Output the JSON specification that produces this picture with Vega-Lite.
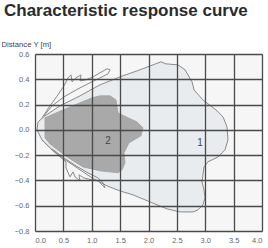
{
  "$schema": "https://vega.github.io/schema/vega-lite/v6.json",
  "width": 227,
  "height": 177,
  "autosize": {"type": "none"},
  "padding": {"left": 35, "top": 54, "right": 6, "bottom": 17},
  "background": "#ffffff",
  "title": {
    "text": "Characteristic response curve",
    "anchor": "start",
    "frame": "group",
    "dx": -31,
    "font": "Liberation Sans",
    "fontSize": 17,
    "fontWeight": "bold",
    "color": "#2b2b2b",
    "offset": 20
  },
  "config": {
    "view": {"fill": "#f6f6f6", "stroke": null},
    "axis": {
      "grid": true,
      "gridColor": "#4a4a4a",
      "gridWidth": 1.3,
      "gridOpacity": 1,
      "domain": false,
      "ticks": false,
      "labelFont": "Liberation Sans",
      "labelFontSize": 7.5,
      "labelColor": "#666666"
    }
  },
  "datasets": {
    "r1": [
      {"i": 0, "x": 0.035, "y": 0.0},
      {"i": 1, "x": 0.053, "y": 0.063},
      {"i": 2, "x": 0.176, "y": 0.111},
      {"i": 3, "x": 0.441, "y": 0.19},
      {"i": 4, "x": 0.793, "y": 0.269},
      {"i": 5, "x": 1.145, "y": 0.356},
      {"i": 6, "x": 1.498, "y": 0.419},
      {"i": 7, "x": 1.85, "y": 0.475},
      {"i": 8, "x": 2.22, "y": 0.538},
      {"i": 9, "x": 2.308, "y": 0.522},
      {"i": 10, "x": 2.52, "y": 0.514},
      {"i": 11, "x": 2.643, "y": 0.475},
      {"i": 12, "x": 2.696, "y": 0.435},
      {"i": 13, "x": 2.767, "y": 0.38},
      {"i": 14, "x": 2.802, "y": 0.316},
      {"i": 15, "x": 2.96, "y": 0.237},
      {"i": 16, "x": 3.189, "y": 0.158},
      {"i": 17, "x": 3.313, "y": 0.103},
      {"i": 18, "x": 3.383, "y": 0.024},
      {"i": 19, "x": 3.401, "y": -0.079},
      {"i": 20, "x": 3.348, "y": -0.158},
      {"i": 21, "x": 3.225, "y": -0.214},
      {"i": 22, "x": 3.048, "y": -0.253},
      {"i": 23, "x": 2.978, "y": -0.293},
      {"i": 24, "x": 2.96, "y": -0.356},
      {"i": 25, "x": 2.943, "y": -0.411},
      {"i": 26, "x": 2.978, "y": -0.475},
      {"i": 27, "x": 2.996, "y": -0.538},
      {"i": 28, "x": 2.96, "y": -0.593},
      {"i": 29, "x": 2.872, "y": -0.633},
      {"i": 30, "x": 2.784, "y": -0.649},
      {"i": 31, "x": 2.555, "y": -0.649},
      {"i": 32, "x": 2.326, "y": -0.625},
      {"i": 33, "x": 2.026, "y": -0.57},
      {"i": 34, "x": 1.727, "y": -0.514},
      {"i": 35, "x": 1.498, "y": -0.483},
      {"i": 36, "x": 1.269, "y": -0.443},
      {"i": 37, "x": 1.004, "y": -0.38},
      {"i": 38, "x": 0.793, "y": -0.316},
      {"i": 39, "x": 0.529, "y": -0.237},
      {"i": 40, "x": 0.3, "y": -0.158},
      {"i": 41, "x": 0.123, "y": -0.079},
      {"i": 42, "x": 0.035, "y": 0.0}
    ],
    "r2": [
      {"i": 0, "x": 0.176, "y": 0.095},
      {"i": 1, "x": 0.493, "y": 0.158},
      {"i": 2, "x": 0.793, "y": 0.214},
      {"i": 3, "x": 1.004, "y": 0.253},
      {"i": 4, "x": 1.145, "y": 0.269},
      {"i": 5, "x": 1.322, "y": 0.269},
      {"i": 6, "x": 1.427, "y": 0.237},
      {"i": 7, "x": 1.463, "y": 0.134},
      {"i": 8, "x": 1.604, "y": 0.103},
      {"i": 9, "x": 1.797, "y": 0.063},
      {"i": 10, "x": 1.903, "y": 0.016},
      {"i": 11, "x": 1.868, "y": -0.047},
      {"i": 12, "x": 1.656, "y": -0.103},
      {"i": 13, "x": 1.568, "y": -0.182},
      {"i": 14, "x": 1.586, "y": -0.261},
      {"i": 15, "x": 1.533, "y": -0.316},
      {"i": 16, "x": 1.463, "y": -0.34},
      {"i": 17, "x": 1.145, "y": -0.324},
      {"i": 18, "x": 0.846, "y": -0.293},
      {"i": 19, "x": 0.564, "y": -0.214},
      {"i": 20, "x": 0.264, "y": -0.111},
      {"i": 21, "x": 0.176, "y": -0.063},
      {"i": 22, "x": 0.176, "y": 0.095}
    ],
    "lobeUp": [
      {"i": 0, "x": 0.123, "y": 0.095},
      {"i": 1, "x": 0.264, "y": 0.19},
      {"i": 2, "x": 0.405, "y": 0.277},
      {"i": 3, "x": 0.511, "y": 0.348},
      {"i": 4, "x": 0.581, "y": 0.411},
      {"i": 5, "x": 0.634, "y": 0.435},
      {"i": 6, "x": 0.652, "y": 0.38},
      {"i": 7, "x": 0.722, "y": 0.411},
      {"i": 8, "x": 0.811, "y": 0.435},
      {"i": 9, "x": 0.793, "y": 0.388},
      {"i": 10, "x": 0.899, "y": 0.396},
      {"i": 11, "x": 1.022, "y": 0.419},
      {"i": 12, "x": 1.145, "y": 0.451},
      {"i": 13, "x": 1.269, "y": 0.483},
      {"i": 14, "x": 1.322, "y": 0.475},
      {"i": 15, "x": 1.286, "y": 0.443},
      {"i": 16, "x": 1.145, "y": 0.411},
      {"i": 17, "x": 0.969, "y": 0.372},
      {"i": 18, "x": 0.758, "y": 0.324},
      {"i": 19, "x": 0.511, "y": 0.261},
      {"i": 20, "x": 0.3, "y": 0.19},
      {"i": 21, "x": 0.159, "y": 0.111}
    ],
    "lobeDown": [
      {"i": 0, "x": 0.123, "y": -0.079},
      {"i": 1, "x": 0.3, "y": -0.158},
      {"i": 2, "x": 0.441, "y": -0.214},
      {"i": 3, "x": 0.546, "y": -0.253},
      {"i": 4, "x": 0.546, "y": -0.301},
      {"i": 5, "x": 0.617, "y": -0.372},
      {"i": 6, "x": 0.67, "y": -0.332},
      {"i": 7, "x": 0.705, "y": -0.372},
      {"i": 8, "x": 0.793, "y": -0.403},
      {"i": 9, "x": 0.775, "y": -0.356},
      {"i": 10, "x": 0.863, "y": -0.38},
      {"i": 11, "x": 1.004, "y": -0.396},
      {"i": 12, "x": 1.11, "y": -0.403},
      {"i": 13, "x": 1.233, "y": -0.459},
      {"i": 14, "x": 1.198, "y": -0.419},
      {"i": 15, "x": 1.11, "y": -0.38},
      {"i": 16, "x": 0.934, "y": -0.34},
      {"i": 17, "x": 0.722, "y": -0.285},
      {"i": 18, "x": 0.511, "y": -0.222},
      {"i": 19, "x": 0.3, "y": -0.15}
    ],
    "labels": [
      {"x": 1.286, "y": -0.087, "t": "2"},
      {"x": 2.908, "y": -0.103, "t": "1"}
    ]
  },
  "encoding": {
    "x": {
      "field": "x", "type": "quantitative",
      "scale": {"domain": [0, 4], "nice": false, "zero": false},
      "axis": {"values": [0, 0.5, 1, 1.5, 2, 2.5, 3, 3.5, 4], "format": ".1f", "title": null, "labelPadding": 5, "zindex": 1}
    },
    "y": {
      "field": "y", "type": "quantitative",
      "scale": {"domain": [-0.8, 0.6], "nice": false, "zero": false},
      "axis": {
        "values": [-0.8, -0.6, -0.4, -0.2, 0, 0.2, 0.4, 0.6], "format": ".1f", "labelPadding": 6, "zindex": 1,
        "title": "Distance Y [m]", "titleAngle": 0, "titleAlign": "left", "titleBaseline": "bottom",
        "titleX": -34, "titleY": -6, "titleFont": "Liberation Sans", "titleFontSize": 7.7,
        "titleFontWeight": "normal", "titleColor": "#444444"
      }
    }
  },
  "layer": [
    {
      "data": {"name": "r1"},
      "mark": {"type": "line", "fill": "#e9ecee", "stroke": "#8a8a8a", "strokeWidth": 1, "interpolate": "linear"},
      "encoding": {"order": {"field": "i", "type": "quantitative"}}
    },
    {
      "data": {"name": "r2"},
      "mark": {"type": "line", "fill": "#a9a9a9", "stroke": "#a0a0a0", "strokeWidth": 0.8, "interpolate": "linear"},
      "encoding": {"order": {"field": "i", "type": "quantitative"}}
    },
    {
      "data": {"name": "lobeUp"},
      "mark": {"type": "line", "stroke": "#8a8a8a", "strokeWidth": 1, "interpolate": "linear"},
      "encoding": {"order": {"field": "i", "type": "quantitative"}}
    },
    {
      "data": {"name": "lobeDown"},
      "mark": {"type": "line", "stroke": "#8a8a8a", "strokeWidth": 1, "interpolate": "linear"},
      "encoding": {"order": {"field": "i", "type": "quantitative"}}
    },
    {
      "data": {"name": "labels"},
      "mark": {"type": "text", "font": "Liberation Sans", "fontSize": 10},
      "encoding": {"text": {"field": "t"}, "color": {"value": "#444444"}}
    }
  ]
}
